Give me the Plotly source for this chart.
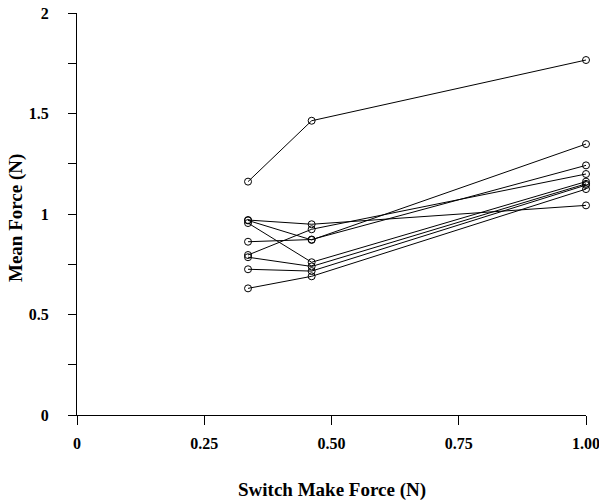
import plotly.graph_objects as go

# Switch make forces (N) at which each subject was tested
switch_force = [0.336, 0.461, 1.00]

# Mean force (N) per subject at each switch make force
mean_low = [1.161, 0.970, 0.968, 0.955, 0.862, 0.796, 0.785, 0.725, 0.630]
mean_mid = [1.464, 0.949, 0.871, 0.760, 0.873, 0.924, 0.739, 0.716, 0.690]
mean_high = [1.766, 1.043, 1.348, 1.161, 1.242, 1.199, 1.150, 1.144, 1.124]

x_tickvals = [0, 0.25, 0.5, 0.75, 1.0]
x_ticktext = ["0", "0.25", "0.50", "0.75", "1.00"]
y_tickvals = [0, 0.5, 1, 1.5, 2]
y_ticktext = ["0", "0.5", "1", "1.5", "2"]

FONT = "Liberation Serif"

fig = go.Figure()
for lo, mi, hi in zip(mean_low, mean_mid, mean_high):
    fig.add_trace(go.Scatter(
        x=switch_force, y=[lo, mi, hi], mode="lines+markers",
        line=dict(color="black", width=1),
        marker=dict(symbol="circle-open", size=7, color="black",
                    line=dict(width=1, color="black")),
        cliponaxis=False, showlegend=False, hoverinfo="skip"))

fig.update_layout(
    width=599, height=503,
    margin=dict(l=77, r=13, t=13, b=88),
    paper_bgcolor="white", plot_bgcolor="white",
    font=dict(family=FONT, color="black"),
    xaxis=dict(
        range=[0, 1], tickvals=x_tickvals, ticktext=x_ticktext,
        automargin=False, ticklabeloverflow="allow",
        showgrid=False, zeroline=False, showline=True, linecolor="black",
        linewidth=1, ticks="outside", ticklen=9, tickcolor="black",
        tickfont=dict(family=FONT, size=16, color="black", weight="bold"),
        ticklabelstandoff=5,
    ),
    yaxis=dict(
        range=[0, 2], tickvals=y_tickvals, ticktext=y_ticktext,
        automargin=False,
        showgrid=False, zeroline=False, showline=True, linecolor="black",
        linewidth=1, ticks="outside", ticklen=8, tickcolor="black",
        minor=dict(dtick=0.25, tick0=0, ticks="outside", ticklen=8,
                   tickcolor="black", showgrid=False),
        tickfont=dict(family=FONT, size=16, color="black", weight="bold"),
        ticklabelstandoff=16,
    ),
    annotations=[
        dict(text="<b>Switch Make Force (N)</b>", xref="paper", yref="paper",
             x=0.5, y=0, yshift=-75, xanchor="center", yanchor="middle",
             showarrow=False, font=dict(family=FONT, size=19, color="black")),
        dict(text="<b>Mean Force (N)</b>", xref="paper", yref="paper",
             x=0, y=0.49, xshift=-61, xanchor="center", yanchor="middle",
             textangle=-90, showarrow=False,
             font=dict(family=FONT, size=19, color="black")),
    ],
)

fig.write_html("out.html", config={"displayModeBar": False},
               post_script="document.body.style.margin='0';")
